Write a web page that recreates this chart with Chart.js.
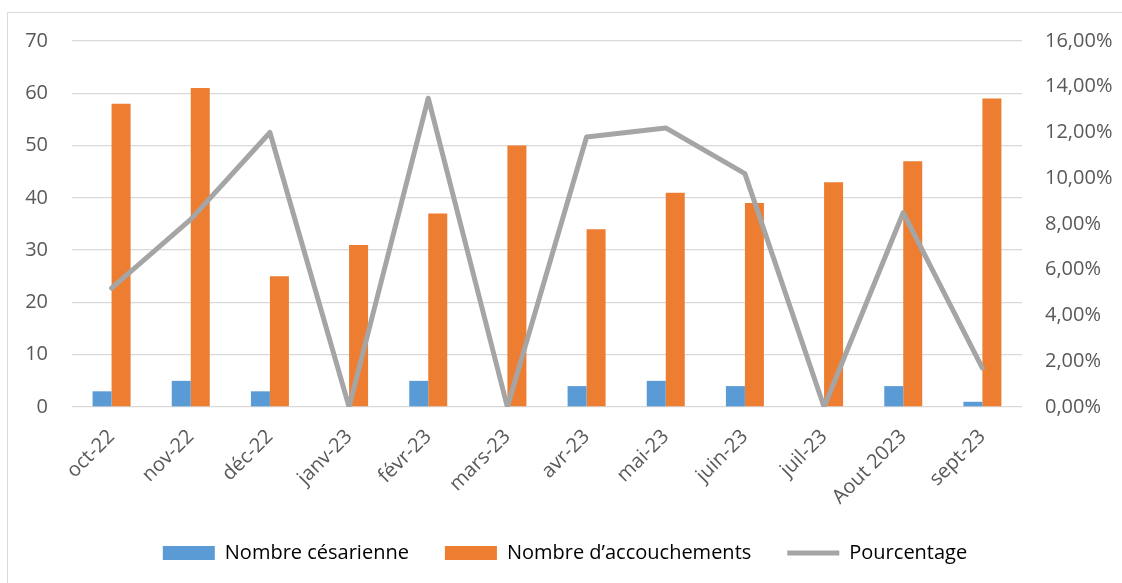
<!DOCTYPE html>
<html>
<head>
<meta charset="utf-8">
<script src="https://cdn.jsdelivr.net/npm/chart.js@4"></script>
<style>
  html, body { margin: 0; padding: 0; background: #fff; overflow: hidden; }
  .chart-frame {
    position: absolute; left: 7px; top: 12px; width: 1130px; height: 600px;
    border: 1px solid #d9d9d9; box-sizing: border-box;
  }
  .chart-box { position: absolute; left: 8px; top: 13px; width: 1114px; height: 570px; }
</style>
</head>
<body>
<div class="chart-frame"></div>
<div class="chart-box"><canvas id="cesarChart"></canvas></div>
<script>
const months = ["oct-22", "nov-22", "déc-22", "janv-23", "févr-23", "mars-23",
  "avr-23", "mai-23", "juin-23", "juil-23", "Aout 2023", "sept-23"];
const cesariennes = [3, 5, 3, 0, 5, 0, 4, 5, 4, 0, 4, 1];
const accouchements = [58, 61, 25, 31, 37, 50, 34, 41, 39, 43, 47, 59];
const pourcentage = [0.052, 0.082, 0.120, 0, 0.135, 0, 0.118, 0.122, 0.102, 0, 0.085, 0.017];

const textColor = "#595959";
const fontFamily = "'Open Sans', 'Liberation Sans', sans-serif";
const fontSize = 20;

Chart.defaults.font.family = fontFamily;
Chart.defaults.color = textColor;

const formatPercent = (v) => (v * 100).toFixed(2).replace(".", ",") + "%";

// fixed width, and no label overhang above/below so layout padding controls the plot top
const fixVerticalAxis = (width) => (axis) => {
  axis.width = width;
  axis.paddingTop = 0;
  axis.paddingBottom = 0;
};

new Chart(document.getElementById("cesarChart"), {
  type: "bar",
  data: {
    labels: months,
    datasets: [
      {
        label: "Nombre césarienne",
        data: cesariennes,
        backgroundColor: "#5b9bd5",
        yAxisID: "y",
        order: 1,
        categoryPercentage: 0.48,
        barPercentage: 1,
      },
      {
        label: "Nombre d’accouchements",
        data: accouchements,
        backgroundColor: "#ed7d31",
        yAxisID: "y",
        order: 1,
        categoryPercentage: 0.48,
        barPercentage: 1,
      },
      {
        type: "line",
        label: "Pourcentage",
        data: pourcentage,
        borderColor: "#a5a5a5",
        backgroundColor: "#a5a5a5",
        borderWidth: 5,
        borderCapStyle: "round",
        borderJoinStyle: "round",
        pointRadius: 0,
        tension: 0,
        yAxisID: "y1",
        order: 0,
      },
    ],
  },
  options: {
    responsive: true,
    maintainAspectRatio: false,
    animation: false,
    layout: { padding: { top: 28, bottom: 10, left: 0, right: 0 } },
    plugins: {
      tooltip: { enabled: false },
      legend: {
        position: "bottom",
        labels: {
          usePointStyle: true,
          pointStyleWidth: 52,
          boxHeight: 14,
          padding: 36,
          font: { size: fontSize },
          color: textColor,
          generateLabels: (chart) =>
            chart.data.datasets.map((ds, i) => ({
              text: ds.label,
              fillStyle: ds.backgroundColor,
              strokeStyle: ds.type === "line" ? ds.borderColor : ds.backgroundColor,
              lineWidth: ds.type === "line" ? 5 : 0,
              pointStyle: ds.type === "line" ? "line" : "rect",
              datasetIndex: i,
              hidden: false,
            })),
        },
      },
    },
    scales: {
      x: {
        grid: { display: false },
        border: { display: false },
        ticks: {
          maxRotation: 45,
          minRotation: 45,
          padding: 10,
          font: { size: fontSize },
          color: textColor,
        },
        afterFit: (axis) => { axis.height = 100; },
      },
      y: {
        position: "left",
        min: 0,
        max: 70,
        ticks: { stepSize: 10, padding: 24, font: { size: fontSize }, color: textColor },
        grid: { color: "#d9d9d9", lineWidth: 1.3, drawTicks: false },
        border: { display: false },
        afterFit: fixVerticalAxis(64),
      },
      y1: {
        position: "right",
        min: 0,
        max: 0.16,
        ticks: {
          stepSize: 0.02,
          padding: 23,
          font: { size: fontSize },
          color: textColor,
          callback: (v) => formatPercent(v),
        },
        grid: { display: false, drawTicks: false },
        border: { display: false },
        afterFit: fixVerticalAxis(100),
      },
    },
  },
});
</script>
</body>
</html>
